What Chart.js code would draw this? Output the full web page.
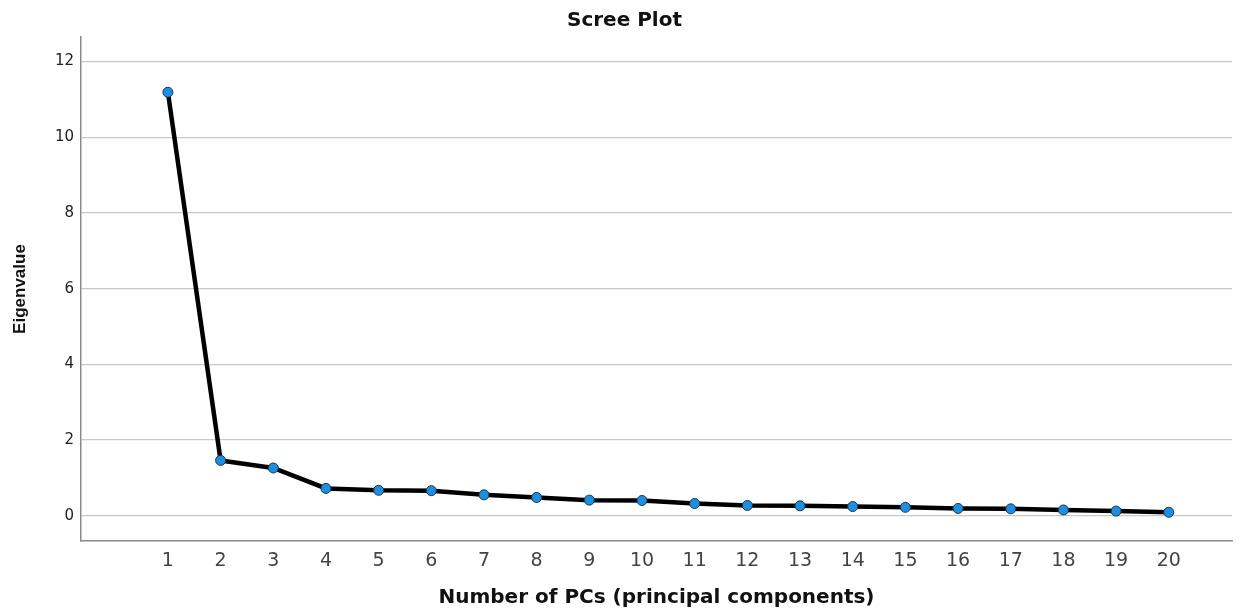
<!DOCTYPE html>
<html>
<head>
<meta charset="utf-8">
<script src="https://cdn.jsdelivr.net/npm/chart.js@4"></script>
<style>
  html, body { margin: 0; padding: 0; background: #fff; }
  #wrap { width: 1249px; height: 615px; }
</style>
</head>
<body>
<div id="wrap"><canvas id="scree"></canvas></div>
<script>
// data
const components = [1, 2, 3, 4, 5, 6, 7, 8, 9, 10, 11, 12, 13, 14, 15, 16, 17, 18, 19, 20];
const eigenvalues = [11.19, 1.46, 1.26, 0.72, 0.67, 0.66, 0.55, 0.48, 0.41, 0.40,
                     0.32, 0.27, 0.26, 0.24, 0.22, 0.19, 0.18, 0.15, 0.12, 0.09];
const yTickValues = [0, 2, 4, 6, 8, 10, 12];

const points = components.map((c, i) => ({ x: c, y: eigenvalues[i] }));
const wideFont = '"DejaVu Sans", Verdana, sans-serif';
const narrowFont = '"Liberation Sans", Arial, sans-serif';

const ctx = document.getElementById('scree').getContext('2d');
const screeChart = new Chart(ctx, {
    type: 'line',
    data: {
        datasets: [{
            label: 'Eigenvalue',
            data: points,
            borderColor: '#000',
            borderWidth: 4.5,
            pointBackgroundColor: '#1b8fe0',
            pointBorderColor: '#1d3550',
            pointBorderWidth: 1,
            pointRadius: 5,
            tension: 0,
            fill: false
        }]
    },
    options: {
        responsive: true,
        maintainAspectRatio: false,
        animation: false,
        plugins: {
            legend: { display: false },
            tooltip: { enabled: false },
            title: {
                display: true,
                text: 'Scree Plot',
                color: '#111',
                font: { family: wideFont, size: 20, weight: 'bold', lineHeight: 1.2 },
                padding: { top: 8.5, bottom: 4.5 }
            }
        },
        scales: {
            x: {
                type: 'linear',
                min: -0.65,
                max: 21.2,
                afterBuildTicks: axis => { axis.ticks = components.map(v => ({ value: v })); },
                afterFit: axis => { axis.height = 74; },
                grid: { display: false, drawTicks: false },
                border: { display: true, color: '#8a8a8a', width: 1.5 },
                ticks: {
                    color: '#444',
                    padding: 9,
                    autoSkip: false,
                    maxRotation: 0,
                    font: { family: wideFont, size: 19 }
                },
                title: {
                    display: true,
                    text: 'Number of PCs (principal components)',
                    color: '#111',
                    font: { family: wideFont, size: 20, weight: 'bold' },
                    padding: { top: 0, bottom: 5 }
                }
            },
            y: {
                min: -0.67,
                max: 12.65,
                afterBuildTicks: axis => { axis.ticks = yTickValues.map(v => ({ value: v })); },
                afterFit: axis => { axis.width = 81; },
                grid: { color: '#c8c8c8', lineWidth: 1.2, drawTicks: false },
                border: { display: true, color: '#8a8a8a', width: 1.5 },
                ticks: {
                    color: '#222',
                    padding: 7,
                    font: { family: wideFont, size: 15 }
                },
                title: {
                    display: true,
                    text: 'Eigenvalue',
                    color: '#111',
                    font: { family: narrowFont, size: 17, weight: 'bold' },
                    padding: { top: 10, bottom: 0 }
                }
            },
            // empty strip on the right so the title centres on the full width
            yRight: {
                position: 'right',
                min: -0.67,
                max: 12.65,
                afterFit: axis => { axis.width = 17; },
                grid: { display: false, drawTicks: false },
                border: { display: false },
                ticks: { display: false }
            }
        }
    }
});
</script>
</body>
</html>
